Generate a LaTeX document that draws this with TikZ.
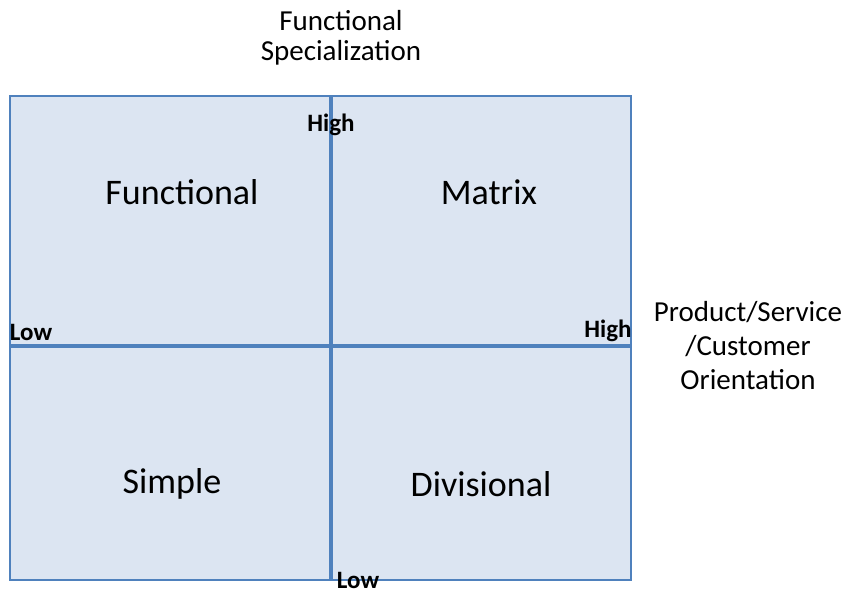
\documentclass[tikz,border=0pt]{standalone}
\usepackage{fontspec}
\setmainfont{Carlito}
\usetikzlibrary{positioning}

\definecolor{boxfill}{HTML}{DCE5F2}
\definecolor{boxline}{HTML}{4F81BD}

\begin{document}
\begin{tikzpicture}[x=1pt,y=-1pt,
        quad/.style={font=\fontsize{36}{40}\selectfont},
        axislabel/.style={align=center},
        tick/.style={font=\bfseries\fontsize{25}{28}\selectfont,inner sep=0pt}]
            \useasboundingbox (0,0) rectangle (848,596);
            \draw[boxline,fill=boxfill,line width=1.5] (10,96) rectangle (631,580);
            \coordinate (top) at (331,96);
            \coordinate (bottom) at (331,580);
            \coordinate (left) at (10,346);
            \coordinate (right) at (631,346);
            \draw[boxline,line width=4] (top) -- (bottom);
            \draw[boxline,line width=4] (left) -- (right);
            
            \node[quad] (func) at (182,192) {Functional};
            \node[quad] (matrix) at (489,192) {Matrix};
            \node[quad] (simple) at (172,484) {Simple};
            \node[quad] (div) at (481,484) {Divisional};
            
            \node[tick] (yhigh) at (331,125) {High};
            \node[tick] (ylow) at (358,580) {Low};
            \node[tick] (xlow) at (31,332) {Low};
            \node[tick] (xhigh) at (608,331) {High};
            
            \node[axislabel,font=\fontsize{29}{30}\selectfont] (ytitle) at (341,38) {Functional\\Specialization};
            \node[axislabel,font=\fontsize{29}{34}\selectfont] (xtitle) at (748,346) {Product/Service\\/Customer\\Orientation};
        \end{tikzpicture}
\end{document}
